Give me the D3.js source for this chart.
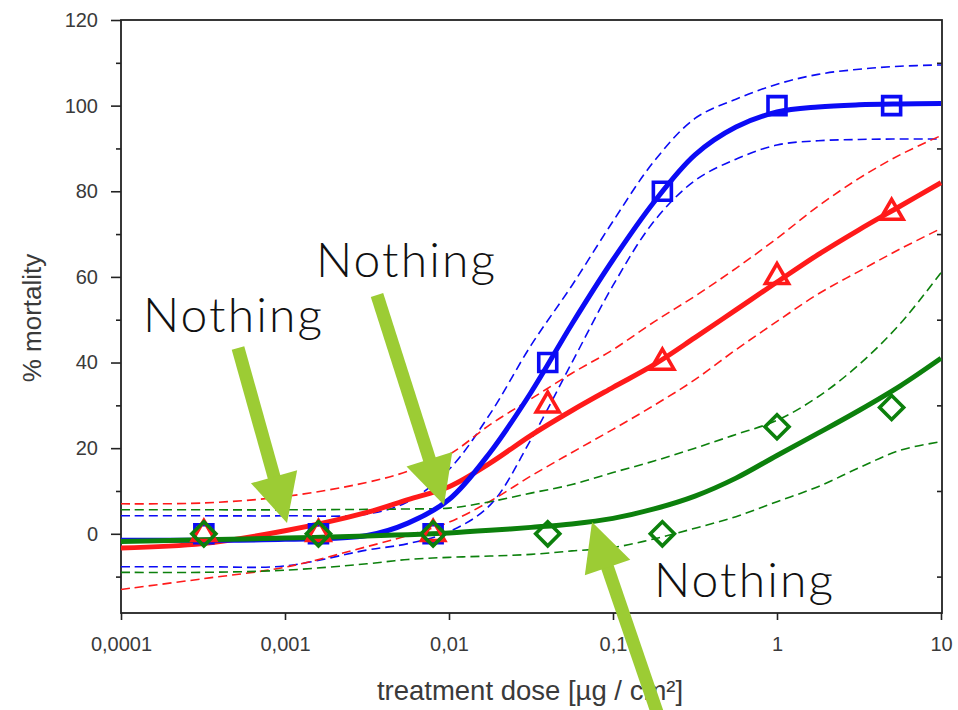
<html>
<head>
<meta charset="utf-8">
<script src="https://d3js.org/d3.v7.min.js"></script>
<style>
  body { margin: 0; background: #fff; }
  text { font-family: "Liberation Sans", Arial, sans-serif; }
</style>
</head>
<body>
<svg width="958" height="710"></svg>
<script>

// measured points (5-fold dilution series)
var doses = [0.00032, 0.0016, 0.008, 0.04, 0.2, 1, 5];
var blueMort = [0, 0, 0, 40, 80, 100, 100];
var redMort = [0, 0, 0, 30, 40, 60, 75];
var greenMort = [0, 0, 0, 0, 0, 25, 29.5];

var curveDoses = [0.0001, 0.000316, 0.001, 0.00316, 0.00562, 0.01, 0.0178, 0.0316, 0.0562,
                  0.1, 0.178, 0.316, 0.562, 1, 1.78, 3.16, 5.62, 10];

var blueFit   = [-1.5, -1.5, -1.3, -0.4, 2.5, 8, 19, 33, 49, 64, 77.5, 88.5, 95, 98.5, 99.7, 100.2, 100.4, 100.5];
var blueHigh  = [4.2, 4.2, 4.2, 4.6, 7.5, 15, 28, 44, 58, 73, 87, 97, 101.5, 105, 107.3, 108.5, 109.2, 109.5];
var blueLow   = [-7.7, -7.7, -7.5, -3.8, -2.3, 0.5, 6.7, 22, 40, 58, 73, 82.5, 87.5, 90.8, 91.8, 92.1, 92.2, 92.2];

var redFit    = [-3.3, -2.3, 0.7, 5, 8, 11, 16.5, 23, 28.8, 34.2, 39.5, 45.8, 52.3, 58.8, 65.2, 71, 76.5, 82];
var redHigh   = [7, 7.2, 8.7, 12, 14.6, 18.5, 25.5, 31.5, 37.5, 43, 49.5, 55.5, 62, 69, 76.5, 83, 88.5, 93];
var redLow    = [-13, -10.5, -7.8, -3, -0.4, 2.7, 7.6, 13.5, 19, 24.4, 30, 36, 43, 49.6, 56, 61.3, 66.5, 71.3];

var greenFit  = [-1.8, -1.4, -1, -0.5, -0.2, 0.2, 0.8, 1.5, 2.3, 3.6, 5.8, 8.8, 13, 18.3, 23.5, 28.8, 34.5, 41];
var greenHigh = [5.6, 5.6, 5.6, 5.7, 5.8, 6, 7.5, 9.5, 11.5, 14.3, 17, 20, 23.2, 26.5, 32, 39.5, 49, 61];
var greenLow  = [-9, -9, -8.5, -7, -6, -5.5, -5.2, -4.8, -4, -3.2, -1.2, 1.3, 4, 7.5, 11, 15.4, 19.5, 21.5];

var xTicks = [0.0001, 0.001, 0.01, 0.1, 1, 10];
var yTicks = [0, 20, 40, 60, 80, 100, 120];
var yMinor = [-10, 10, 30, 50, 70, 90, 110];

var svg = d3.select('svg');
var x = d3.scaleLog().domain([0.0001, 10]).range([121, 941]);
var y = d3.scaleLinear().domain([-18.5, 120]).range([613, 20]);

svg.append('clipPath').attr('id', 'plot')
  .append('rect').attr('x', 121).attr('y', 20).attr('width', 821).attr('height', 593);

// axes
svg.append('g').attr('transform', 'translate(121,0)')
  .call(d3.axisLeft(y).tickValues(yTicks).tickSize(10).tickPadding(13));
svg.append('g').attr('transform', 'translate(121,0)')
  .call(d3.axisLeft(y).tickValues(yMinor).tickSize(5).tickFormat(''));
svg.append('g').attr('transform', 'translate(942,0)')
  .call(d3.axisLeft(y).tickValues(yMinor).tickSize(-5).tickFormat(''))
  .selectAll('line').attr('x2', -5);
svg.append('g').attr('transform', 'translate(0,613)')
  .call(d3.axisBottom(x).tickValues(xTicks).tickSize(7).tickPadding(17)
    .tickFormat(function(d) { return String(d).replace('.', ','); }));

svg.selectAll('.domain').remove();
svg.selectAll('.tick line').attr('stroke', '#222').attr('stroke-width', 1.6);
svg.selectAll('.tick text').attr('fill', '#3a3a3a').style('font-size', '20px');

svg.append('rect').attr('x', 121).attr('y', 20).attr('width', 821).attr('height', 593)
  .attr('fill', 'none').attr('stroke', '#222').attr('stroke-width', 1.8);

svg.append('text').attr('transform', 'translate(41,318) rotate(-90)')
  .attr('text-anchor', 'middle').attr('fill', '#3a3a3a').style('font-size', '26px')
  .text('% mortality');
svg.append('text').attr('x', 530).attr('y', 700)
  .attr('text-anchor', 'middle').attr('fill', '#3a3a3a').style('font-size', '27.5px')
  .text('treatment dose [µg / cm²]');

// curves
var line = d3.line()
  .x(function(d) { return x(d[0]); })
  .y(function(d) { return y(d[1]); })
  .curve(d3.curveCatmullRom.alpha(0.5));

var series = [
  {color: '#0b0bf5', fit: blueFit, hi: blueHigh, lo: blueLow, pts: blueMort, shape: 'square'},
  {color: '#ff1a1a', fit: redFit, hi: redHigh, lo: redLow, pts: redMort, shape: 'triangle'},
  {color: '#0c800c', fit: greenFit, hi: greenHigh, lo: greenLow, pts: greenMort, shape: 'diamond'}
];

var curves = svg.append('g').attr('clip-path', 'url(#plot)');
series.forEach(function(s) {
  [s.hi, s.lo].forEach(function(band) {
    curves.append('path')
      .datum(curveDoses.map(function(d, i) { return [d, band[i]]; }))
      .attr('d', line).attr('fill', 'none')
      .attr('stroke', s.color).attr('stroke-width', 1.6).attr('stroke-dasharray', '9,5');
  });
});
[series[1], series[0], series[2]].forEach(function(s) {
  curves.append('path')
    .datum(curveDoses.map(function(d, i) { return [d, s.fit[i]]; }))
    .attr('d', line).attr('fill', 'none')
    .attr('stroke', s.color).attr('stroke-width', 5);
});

// markers
var symbols = {
  square: d3.symbol().type(d3.symbolSquare).size(324),
  triangle: d3.symbol().type(d3.symbolTriangle).size(230),
  diamond: d3.symbol().type(d3.symbolSquare).size(290)
};
series.forEach(function(s) {
  svg.append('g').selectAll('path')
    .data(doses.map(function(d, i) { return [d, s.pts[i]]; }))
    .join('path')
      .attr('d', symbols[s.shape])
      .attr('transform', function(d) {
        return 'translate(' + x(d[0]) + ',' + y(d[1]) + ')' + (s.shape === 'diamond' ? ' rotate(45)' : '');
      })
      .attr('fill', 'none').attr('stroke', s.color).attr('stroke-width', 3.6);
});

// annotations
var arrows = [[[238, 348], [287, 523]], [[377, 295], [444, 505]], [[657, 712], [592, 522]]];
arrows.forEach(function(a) {
  var dx = a[1][0] - a[0][0], dy = a[1][1] - a[0][1];
  var len = Math.sqrt(dx * dx + dy * dy);
  var ux = dx / len, uy = dy / len;
  var bx = a[1][0] - 48 * ux, by = a[1][1] - 48 * uy;
  svg.append('line').attr('x1', a[0][0]).attr('y1', a[0][1]).attr('x2', bx + 4 * ux).attr('y2', by + 4 * uy)
    .attr('stroke', '#9ccc34').attr('stroke-width', 13);
  svg.append('path')
    .attr('d', 'M' + a[1][0] + ',' + a[1][1] +
               'L' + (bx + 24 * uy) + ',' + (by - 24 * ux) +
               'L' + (bx - 24 * uy) + ',' + (by + 24 * ux) + 'Z')
    .attr('fill', '#9ccc34');
});

var notes = [[143, 332], [316, 277], [654, 597]];
notes.forEach(function(n) {
  svg.append('text').attr('x', n[0]).attr('y', n[1])
    .style('font-family', 'Lato, "Open Sans", sans-serif').style('font-weight', 300)
    .style('font-size', '48px').attr('fill', '#111')
    .attr('textLength', 179).attr('lengthAdjust', 'spacing')
    .text('Nothing');
});

</script>
</body>
</html>
